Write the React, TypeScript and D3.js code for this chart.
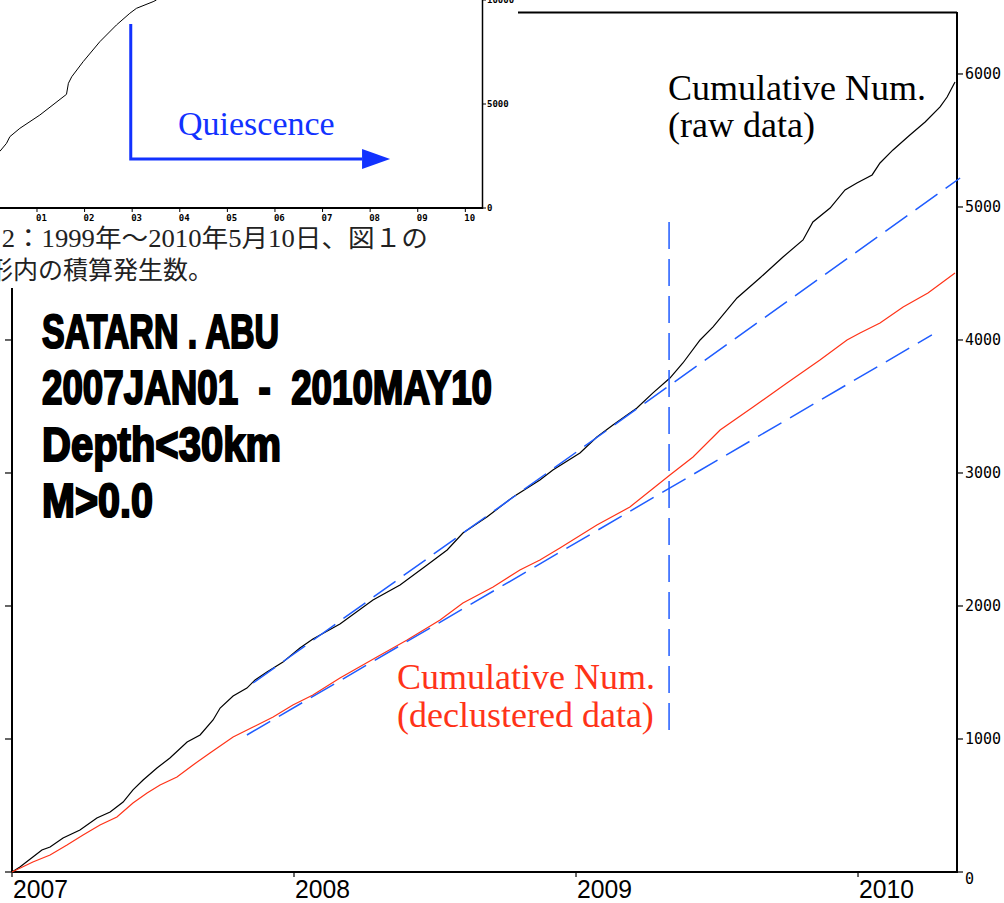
import React from "react";
import * as d3 from "d3";

// ---- Main chart data (decimal year, cumulative count) ----
const rawYears = [2007.0, 2007.028, 2007.074, 2007.106, 2007.135, 2007.181, 2007.241, 2007.301, 2007.348, 2007.394, 2007.429, 2007.465, 2007.514, 2007.56, 2007.621, 2007.667, 2007.713, 2007.738, 2007.784, 2007.833, 2007.862, 2007.904, 2007.961, 2008.021, 2008.067, 2008.163, 2008.28, 2008.376, 2008.472, 2008.543, 2008.599, 2008.684, 2008.777, 2008.872, 2008.918, 2009.014, 2009.074, 2009.131, 2009.216, 2009.273, 2009.333, 2009.379, 2009.44, 2009.486, 2009.571, 2009.652, 2009.734, 2009.805, 2009.84, 2009.901, 2009.954, 2009.996, 2010.05, 2010.078, 2010.124, 2010.184, 2010.238, 2010.291, 2010.316, 2010.344];
const rawCounts = [0, 38, 113, 165, 188, 256, 316, 406, 451, 526, 617, 692, 782, 857, 977, 1030, 1143, 1233, 1323, 1383, 1444, 1504, 1579, 1684, 1752, 1865, 2045, 2158, 2308, 2421, 2549, 2669, 2820, 2947, 3023, 3150, 3271, 3361, 3489, 3602, 3714, 3827, 4000, 4098, 4316, 4466, 4624, 4752, 4887, 4992, 5128, 5180, 5241, 5331, 5429, 5541, 5639, 5752, 5827, 5940];

const declYears = [2007.0, 2007.074, 2007.135, 2007.195, 2007.252, 2007.312, 2007.372, 2007.429, 2007.479, 2007.525, 2007.585, 2007.642, 2007.702, 2007.784, 2007.855, 2007.926, 2007.996, 2008.067, 2008.163, 2008.294, 2008.401, 2008.518, 2008.599, 2008.706, 2008.801, 2008.872, 2008.943, 2009.074, 2009.191, 2009.333, 2009.415, 2009.511, 2009.628, 2009.748, 2009.865, 2009.961, 2010.007, 2010.078, 2010.16, 2010.248, 2010.344];
const declCounts = [0, 75, 128, 203, 278, 353, 414, 519, 594, 654, 714, 805, 895, 1015, 1090, 1165, 1256, 1331, 1459, 1617, 1744, 1895, 2023, 2143, 2271, 2346, 2436, 2609, 2744, 2985, 3120, 3323, 3496, 3677, 3850, 4000, 4053, 4128, 4248, 4353, 4504];

// Trend lines (dashed blue): [year, count]
const rawTrend = [[2007.855, 1421], [2010.362, 5218]];
const declTrend = [[2007.833, 1030], [2010.262, 4038]];
const changePoint = [[2009.33, 4887], [2009.33, 1068]];

const yearTicks = [2007, 2008, 2009, 2010];
const countTicks = [0, 1000, 2000, 3000, 4000, 5000, 6000];

// ---- Inset (1999 - 2010) ----
const insetYears = [2000.22, 2000.36, 2000.43, 2000.64, 2001.06, 2001.62, 2001.66, 2001.73, 2001.97, 2002.32, 2002.67, 2002.95, 2003.09, 2003.44, 2003.51];
const insetCounts = [2724, 3110, 3430, 3830, 4470, 5465, 5995, 6310, 7035, 7995, 8800, 9360, 9600, 9920, 10000];
const insetYearTicks = [2000, 2001, 2002, 2003, 2004, 2005, 2006, 2007, 2008, 2009, 2010];
const insetCountTicks = [0, 5000, 10000];

const titleLines = ["SATARN . ABU", "2007JAN01  -  2010MAY10", "Depth<30km", "M>0.0"];
const captionLines = ["図2：1999年～2010年5月10日、図１の", "形内の積算発生数。"];

export default function App() {
  const x = d3.scaleLinear().domain([2007, 2010.351]).range([12, 957]);
  const y = d3.scaleLinear().domain([0, 6466]).range([872, 12]);
  const line = d3.line<number[]>().x((d) => x(d[0])).y((d) => y(d[1]));

  const rawPts = rawYears.map((t, i) => [t, rawCounts[i]]);
  const declPts = declYears.map((t, i) => [t, declCounts[i]]);

  const ix = d3.scaleLinear().domain([1999, 2010.35]).range([-58.2, 482]);
  const iy = d3.scaleLinear().domain([0, 10000]).range([208, 0]);
  const iline = d3.line<number[]>().x((d) => ix(d[0])).y((d) => iy(d[1]));
  const insetPts = insetYears.map((t, i) => [t, insetCounts[i]]);

  const blue = "#1f5cff";
  const qBlue = "#1232ff";
  const red = "#ff3318";
  const dash = "27,10";

  const aX = ix(2002.97), aTop = iy(8846), aY = iy(2356), aEnd = ix(2007.83), aTip = ix(2008.42);

  const titleWidths = [237, 450, 239, 111];
  const titleBase = [348, 404, 461, 517];
  const captionX = [-25, -12];
  const captionY = [247, 279];
  const captionW = [453, 225];

  return (
    <svg width={1004} height={903} style={{ position: "absolute", left: 0, top: 0, background: "#fff" }}>
      <rect x={0} y={0} width={1004} height={903} fill="#fff" />
      {/* Main frame */}
      <line x1={12} y1={872} x2={957} y2={872} stroke="#000" strokeWidth={2} />
      <line x1={12} y1={12} x2={12} y2={872} stroke="#000" strokeWidth={2} />
      <line x1={957} y1={12} x2={957} y2={873} stroke="#000" strokeWidth={2} />
      <line x1={12} y1={12.5} x2={957} y2={12.5} stroke="#000" strokeWidth={2} />
      {countTicks.map((c) => (
        <g key={"ct" + c}>
          <line x1={957} x2={963} y1={y(c)} y2={y(c)} stroke="#000" strokeWidth={1.2} />
          <line x1={5} x2={12} y1={y(c)} y2={y(c)} stroke="#000" strokeWidth={1.2} />
          <text x={965} y={y(c) + (c === 0 ? 7 : 0)} dominantBaseline="central" fontFamily="DejaVu Sans Mono" fontSize={15}>{c}</text>
        </g>
      ))}
      {yearTicks.map((t) => (
        <g key={"yt" + t}>
          <line x1={x(t)} x2={x(t)} y1={872} y2={877} stroke="#000" strokeWidth={1.2} />
          <text x={x(t) + 1} y={898} fontFamily="Liberation Sans, Arial" fontSize={25} textLength={55} lengthAdjust="spacingAndGlyphs">{t}</text>
        </g>
      ))}

      {/* Curves */}
      <path d={line(rawPts) || ""} fill="none" stroke="#000" strokeWidth={1.2} />
      <path d={line(declPts) || ""} fill="none" stroke={red} strokeWidth={1.2} />
      <path d={line(rawTrend) || ""} fill="none" stroke={blue} strokeWidth={1.5} strokeDasharray={dash} />
      <path d={line(declTrend) || ""} fill="none" stroke={blue} strokeWidth={1.5} strokeDasharray={dash} />
      <path d={line(changePoint) || ""} fill="none" stroke={blue} strokeWidth={1.5} strokeDasharray={dash} />

      {/* Title block */}
      {titleLines.map((s, i) => (
        <text key={s} x={42} y={titleBase[i]} fontFamily="'Liberation Sans Narrow', 'Liberation Sans', Arial" fontWeight="bold" fontSize={49} stroke="#000" strokeWidth={2.2} textLength={titleWidths[i]} lengthAdjust="spacingAndGlyphs" style={{ whiteSpace: "pre" }}>{s}</text>
      ))}

      {/* Annotations */}
      <text x={668} y={100} fontFamily="'Liberation Serif', 'Times New Roman'" fontSize={36}>Cumulative Num.</text>
      <text x={668} y={137} fontFamily="'Liberation Serif', 'Times New Roman'" fontSize={36}>(raw data)</text>
      <text x={397} y={689} fontFamily="'Liberation Serif', 'Times New Roman'" fontSize={36} fill={red}>Cumulative Num.</text>
      <text x={397} y={727} fontFamily="'Liberation Serif', 'Times New Roman'" fontSize={36} fill={red}>(declustered data)</text>

      {/* Inset */}
      <rect x={0} y={0} width={518} height={288} fill="#fff" />
      <path d={iline(insetPts) || ""} fill="none" stroke="#000" strokeWidth={1} />
      <line x1={0} y1={208} x2={483} y2={208} stroke="#000" strokeWidth={1.8} />
      <line x1={482.5} y1={0} x2={482.5} y2={209} stroke="#000" strokeWidth={1.5} />
      {insetYearTicks.map((t) => (
        <g key={"it" + t}>
          <line x1={ix(t)} x2={ix(t)} y1={208} y2={212} stroke="#000" strokeWidth={1} />
          {ix(t) > 5 && (
            <text x={ix(t) - 1} y={218} dominantBaseline="central" fontFamily="DejaVu Sans Mono" fontSize={9} fontWeight="bold">{String(t % 100).padStart(2, "0")}</text>
          )}
        </g>
      ))}
      {insetCountTicks.map((c) => (
        <g key={"ic" + c}>
          <line x1={482} x2={486} y1={iy(c)} y2={iy(c)} stroke="#000" strokeWidth={1} />
          <text x={487} y={iy(c)} dominantBaseline="central" fontFamily="DejaVu Sans Mono" fontSize={9} fontWeight="bold">{c}</text>
        </g>
      ))}
      <polyline points={`${aX},${aTop} ${aX},${aY} ${aEnd},${aY}`} fill="none" stroke={qBlue} strokeWidth={3} />
      <polygon points={`${aEnd},${aY - 10} ${aTip},${aY} ${aEnd},${aY + 10}`} fill={qBlue} />
      <text x={178} y={135} fontFamily="'Liberation Serif', 'Times New Roman'" fontSize={34} fill={qBlue}>Quiescence</text>
      {captionLines.map((s, i) => (
        <text key={s} x={captionX[i]} y={captionY[i]} fontFamily="'Liberation Serif', 'Noto Sans CJK JP'" fontSize={25} fill="#222" textLength={captionW[i]} lengthAdjust="spacingAndGlyphs">{s}</text>
      ))}
    </svg>
  );
}
